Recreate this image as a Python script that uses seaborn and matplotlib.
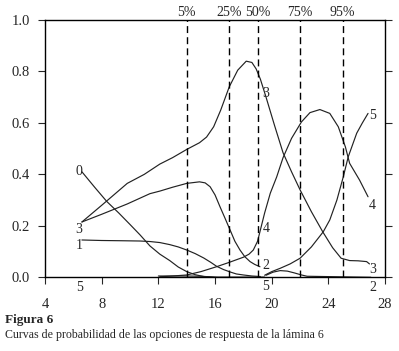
import pandas as pd
import seaborn as sns
import matplotlib.pyplot as plt

# curve points (x = score, y = probability)
c0_x = [6.6, 7.5, 8.35, 9.2, 10.0, 10.7, 11.4, 12.1, 12.8, 13.4, 14.0, 14.6, 15.2, 16.0, 19.5]
c0_y = [0.41, 0.35, 0.295, 0.25, 0.205, 0.165, 0.122, 0.09, 0.065, 0.04, 0.022, 0.01, 0.003, 0.0, 0.0]

c1_x = [6.6, 8.0, 9.5, 10.7, 11.4, 12.1, 12.8, 13.4, 14.0, 14.6, 15.2, 15.7, 16.1, 16.6, 17.1, 17.5, 18.0, 18.6, 19.2]
c1_y = [0.145, 0.143, 0.142, 0.141, 0.139, 0.135, 0.127, 0.118, 0.106, 0.092, 0.075, 0.058, 0.043, 0.03, 0.02, 0.013,
        0.009, 0.005, 0.003]

c2a_x = [6.6, 8.0, 9.8, 11.4, 12.1, 13.0, 14.0, 14.9, 15.3, 15.65, 16.0, 16.35, 16.7, 17.06, 17.4, 17.76, 18.1, 18.47,
         18.8, 19.17]
c2a_y = [0.215, 0.245, 0.285, 0.325, 0.335, 0.35, 0.365, 0.371, 0.367, 0.352, 0.32, 0.274, 0.23, 0.184, 0.14, 0.106,
         0.08, 0.061, 0.05, 0.041]
c2b_x = [19.6, 20.1, 20.6, 21.1, 21.6, 22.1, 22.5, 27.0]
c2b_y = [0.008, 0.02, 0.026, 0.024, 0.017, 0.009, 0.004, 0.0]

c3_x = [6.6, 8.0, 9.8, 11.0, 12.1, 13.0, 14.0, 14.9, 15.4, 15.9, 16.4, 17.0, 17.6, 18.2, 18.6, 18.9, 19.2, 19.6, 20.2,
        20.8, 21.4, 22.0, 22.8, 23.6, 24.3, 24.9, 25.5, 26.1, 26.7, 26.9]
c3_y = [0.215, 0.28, 0.365, 0.40, 0.44, 0.465, 0.497, 0.523, 0.545, 0.585, 0.65, 0.74, 0.805, 0.84, 0.835, 0.81, 0.77,
        0.70, 0.59, 0.484, 0.41, 0.34, 0.255, 0.177, 0.115, 0.074, 0.065, 0.064, 0.061, 0.052]

c4_x = [12.1, 13.0, 14.0, 15.0, 16.1, 17.0, 17.6, 18.0, 18.4, 18.7, 19.0, 19.2, 19.5, 19.9, 20.35, 20.8, 21.4, 22.1,
        22.7, 23.4, 24.1, 24.7, 25.2, 25.5, 26.2, 26.8]
c4_y = [0.002, 0.005, 0.009, 0.022, 0.041, 0.058, 0.07, 0.078, 0.09, 0.106, 0.14, 0.184, 0.25, 0.327, 0.39, 0.465,
        0.54, 0.604, 0.64, 0.652, 0.637, 0.585, 0.507, 0.443, 0.378, 0.313]

c5a_x = [12.0, 13.0, 14.0, 15.0, 15.6, 16.2, 19.5]
c5a_y = [0.005, 0.005, 0.005, 0.004, 0.002, 0.0, 0.0]
c5b_x = [19.5, 20.0, 20.6, 21.3, 22.0, 22.8, 23.64, 24.1, 24.6, 25.05, 25.4, 26.0, 26.4, 26.8]
c5b_y = [0.008, 0.022, 0.035, 0.052, 0.074, 0.118, 0.177, 0.223, 0.30, 0.39, 0.468, 0.56, 0.60, 0.637]

pct_x = [14, 17, 19, 22, 25]
pct_labels = ['5%', '25%', '50%', '75%', '95%']

# curve labels: (text, x, y)
curve_labels = [
    ('0', 6.4, 0.41), ('3', 6.4, 0.185), ('1', 6.4, 0.123), ('5', 6.45, -0.04),
    ('3', 19.6, 0.715), ('4', 19.6, 0.19), ('2', 19.6, 0.045), ('5', 19.6, -0.037),
    ('5', 27.15, 0.63), ('4', 27.1, 0.28), ('3', 27.1, 0.03), ('2', 27.15, -0.04),
]

series = {
    '0': (c0_x, c0_y), '1': (c1_x, c1_y), '2a': (c2a_x, c2a_y), '2b': (c2b_x, c2b_y),
    '3': (c3_x, c3_y), '4': (c4_x, c4_y), '5a': (c5a_x, c5a_y), '5b': (c5b_x, c5b_y),
}
rows = []
for name, (xs, ys) in series.items():
    for x, y in zip(xs, ys):
        rows.append((name, x, y))
df = pd.DataFrame(rows, columns=['curve', 'score', 'prob'])

sns.set_style('ticks')
plt.rcParams['font.family'] = ['Liberation Serif', 'DejaVu Serif']

fig = plt.figure(figsize=(3.99, 3.51), dpi=100)
ax = fig.add_axes([0.113, 0.21, 0.852, 0.733])

sns.lineplot(data=df, x='score', y='prob', units='curve', estimator=None, sort=False,
             color='#222222', linewidth=0.85, ax=ax, legend=False)

for x in pct_x:
    ax.axvline(x, color='black', linewidth=1.0, dashes=(5, 3))
for x, lab in zip(pct_x, pct_labels):
    ax.text(x, 1.005, lab, ha='center', va='bottom', fontsize=10)

for lab, x, y in curve_labels:
    ax.text(x, y, lab, ha='center', va='center', fontsize=10)

ax.set_xlim(4, 28)
ax.set_ylim(0, 1)
ax.set_xticks(range(4, 29, 4))
ax.set_yticks([0, 0.2, 0.4, 0.6, 0.8, 1.0])
ax.set_yticklabels(['0.0', '0.2', '0.4', '0.6', '0.8', '1.0'])
ax.set_xlabel('')
ax.set_ylabel('')
ax.tick_params(axis='x', direction='out', length=5, width=0.8, pad=10, labelsize=10.5)
ax.tick_params(axis='y', direction='out', length=5, width=0.8, pad=6, labelsize=10.5,
               right=True, labelright=False)
for s in ax.spines.values():
    s.set_linewidth(1.0)
    s.set_color('black')

fig.text(0.012, 0.088, 'Figura 6', fontsize=9.5, fontweight='bold', va='center')
fig.text(0.012, 0.046, 'Curvas de probabilidad de las opciones de respuesta de la lámina 6',
         fontsize=8.6, va='center')

fig.savefig('out.png', dpi=100)
